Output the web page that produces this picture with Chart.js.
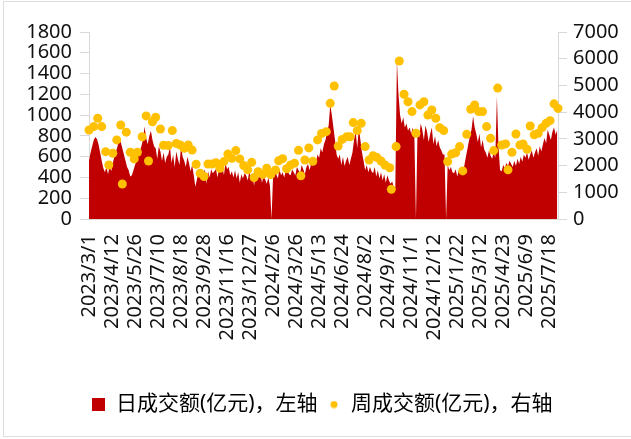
<!DOCTYPE html>
<html>
<head>
<meta charset="utf-8">
<script src="https://cdn.jsdelivr.net/npm/chart.js@4.4.1/dist/chart.umd.min.js"></script>
<style>
  html, body { margin: 0; padding: 0; background: #fff; overflow: hidden; }
  #wrap { position: relative; width: 631px; height: 439px; }
  #frame { position: absolute; left: 3px; top: 1px; width: 640px; height: 436px; border: 1px solid #dedede; box-sizing: border-box; pointer-events: none; }
  canvas { position: absolute; left: 0; top: 0; }
</style>
</head>
<body>
<div id="wrap">
  <canvas id="turnoverChart" width="631" height="439"></canvas>
  <div id="frame"></div>
</div>
<script>
// x轴标签，每29个交易日一个
const tickLabels = ['2023/3/1', '2023/4/12', '2023/5/26', '2023/7/10', '2023/8/18', '2023/9/28',
  '2023/11/16', '2023/12/27', '2024/2/6', '2024/3/26', '2024/5/13', '2024/6/24', '2024/8/2',
  '2024/9/12', '2024/11/1', '2024/12/12', '2025/1/22', '2025/3/12', '2025/4/23', '2025/6/9', '2025/7/18'];
const tickStep = 29;
const lastDay = 591;

// 日成交额(亿元)，每个值代表两个交易日
const dayStep = 2;
const dailyTurnover = [
  560, 640, 700, 760, 790, 770, 720, 640, 560, 490,
  450, 500, 430, 520, 460, 540, 600, 650, 700, 765,
  740, 680, 620, 560, 500, 470, 410, 420, 470, 520,
  560, 610, 650, 700, 760, 890, 780, 720, 800, 850,
  760, 700, 680, 580, 700, 650, 560, 640, 540, 600,
  620, 700, 540, 620, 500, 650, 580, 520, 700, 600,
  560, 500, 600, 540, 460, 520, 420, 310, 380, 450,
  430, 470, 420, 480, 340, 460, 400, 480, 440, 460,
  480, 400, 500, 460, 520, 420, 540, 480, 500, 420,
  460, 400, 470, 390, 450, 350, 430, 390, 440, 420,
  370, 460, 400, 440, 320, 420, 450, 390, 440, 350,
  420, 380, 340, 400, 320, 0, 420, 460, 430, 390,
  480, 420, 450, 400, 470, 500, 430, 420, 480, 450,
  420, 500, 470, 440, 520, 480, 430, 500, 530, 470,
  540, 510, 580, 550, 620, 590, 680, 640, 720, 760,
  840, 900, 1100, 1000, 880, 760, 620, 580, 620, 520,
  600, 510, 560, 600, 520, 580, 640, 760, 850, 680,
  880, 760, 640, 560, 470, 520, 450, 500, 460, 440,
  500, 410, 470, 390, 450, 370, 430, 350, 420, 370,
  340, 360, 310, 300, 1520, 1200, 1000, 920, 980, 880,
  920, 850, 880, 820, 880, 800, 0, 860, 780, 920,
  860, 760, 900, 840, 740, 820, 880, 720, 800, 700,
  760, 690, 660, 620, 620, 0, 520, 470, 500, 450,
  440, 480, 410, 470, 440, 500, 470, 560, 640, 720,
  800, 860, 990, 880, 820, 740, 820, 690, 760, 670,
  640, 590, 660, 610, 580, 640, 590, 1180, 700, 470,
  460, 520, 490, 540, 510, 560, 530, 500, 560, 510,
  580, 530, 600, 550, 620, 590, 640, 570, 620, 660,
  590, 640, 680, 610, 700, 650, 720, 780, 730, 860,
  810, 760, 840, 880, 810, 860
];

// 周成交额(亿元)：所在交易日序号与数值
const weeklyDay = [
  0, 6, 11, 16, 21, 25, 30, 35, 40, 42, 47, 52, 57, 61, 67, 72, 75, 80, 84, 90,
  94, 100, 105, 110, 115, 120, 125, 130, 135, 140, 145, 150, 155, 160, 165, 170, 175, 180, 185, 190,
  195, 200, 205, 208, 213, 219, 224, 229, 235, 239, 244, 249, 254, 259, 264, 267, 272, 277, 282, 288,
  293, 299, 304, 309, 314, 319, 325, 329, 333, 338, 343, 348, 353, 358, 363, 368, 373, 379, 381, 387,
  391, 397, 402, 407, 412, 417, 422, 427, 432, 437, 442, 447, 452, 457, 462, 467, 471, 476, 481, 486,
  491, 496, 501, 506, 510, 515, 520, 525, 528, 533, 538, 543, 547, 552, 556, 561, 566, 571, 576, 581,
  586, 591
];
const weeklyTurnover = [
  3330, 3460, 3770, 3460, 2520, 2020, 2460, 2960, 3520, 1310, 3250, 2500, 2250, 2500, 3080, 3860, 2170, 3640, 3810, 3370,
  2760, 2750, 3310, 2830, 2770, 2650, 2770, 2580, 2050, 1710, 1590, 2060, 2060, 2110, 1900, 2150, 2430, 2270, 2560, 2250,
  2000, 1840, 2120, 1550, 1770, 1670, 1900, 1660, 1835, 2180, 2260, 1880, 2020, 2090, 2570, 1615, 2210, 2660, 2160, 2960,
  3200, 3270, 4330, 4980, 2730, 2980, 3080, 3080, 3610, 3310, 3580, 2710, 2210, 2370, 2300, 2170, 2020, 1920, 1110, 2710,
  5915, 4670, 4390, 4020, 3210, 4270, 4390, 3890, 4080, 3770, 3420, 3310, 2150, 2430, 2480, 2710, 1800, 3170, 4110, 4270,
  4020, 4020, 3460, 3020, 2560, 4900, 2770, 2810, 1840, 2500, 3180, 2770, 2810, 2610, 3480, 3150, 3210, 3420, 3580, 3680,
  4310, 4140
];

const dailyPoints = dailyTurnover.map((v, j) => ({ x: j * dayStep, y: v }));
const weeklyPoints = weeklyTurnover.map((v, k) => ({ x: weeklyDay[k], y: v }));

// 图例标记
function markerCanvas(size, draw) {
  const c = document.createElement('canvas');
  c.width = size;
  c.height = size;
  draw(c.getContext('2d'));
  return c;
}
const redBox = markerCanvas(13, g => { g.fillStyle = '#C00000'; g.fillRect(0, 0, 13, 13); });
const yellowDot = markerCanvas(8, g => {
  g.fillStyle = '#FFC000';
  g.beginPath();
  g.arc(4, 4, 3.5, 0, Math.PI * 2);
  g.fill();
});

// 固定图例高度
const legendHeight = {
  id: 'legendHeight',
  beforeInit(chart) {
    const fit = chart.legend.fit;
    chart.legend.fit = function () {
      fit.call(this);
      this.height = 55;
    };
  }
};

Chart.defaults.font.family = "'Noto Sans', 'Noto Sans CJK SC', sans-serif";
Chart.defaults.color = '#111';

const axisGrey = '#d9d9d9';
const plainNumber = value => String(value);
const ctx = document.getElementById('turnoverChart').getContext('2d');
new Chart(ctx, {
  type: 'line',
  data: {
    datasets: [{
      label: '日成交额(亿元)，左轴',
      data: dailyPoints,
      yAxisID: 'y',
      backgroundColor: '#C00000',
      borderColor: 'rgba(0,0,0,0)',
      borderWidth: 0,
      pointRadius: 0,
      fill: 'origin',
      tension: 0,
      order: 1
    }, {
      type: 'scatter',
      label: '周成交额(亿元)，右轴',
      data: weeklyPoints,
      yAxisID: 'y1',
      backgroundColor: '#FFC000',
      borderWidth: 0,
      pointRadius: 4.5,
      showLine: false,
      clip: false,
      order: 0
    }]
  },
  options: {
    responsive: false,
    animation: false,
    devicePixelRatio: 1,
    layout: { padding: { top: 32, left: 14, right: 0, bottom: 0 } },
    plugins: {
      tooltip: { enabled: false },
      legend: {
        position: 'bottom',
        labels: {
          usePointStyle: true,
          boxWidth: 13,
          boxHeight: 13,
          padding: 10,
          font: { size: 21 },
          generateLabels: () => [
            { text: '日成交额(亿元)，左轴', pointStyle: redBox, fillStyle: '#C00000', lineWidth: 0, hidden: false, datasetIndex: 0 },
            { text: '周成交额(亿元)，右轴', pointStyle: yellowDot, fillStyle: '#FFC000', lineWidth: 0, hidden: false, datasetIndex: 1 }
          ]
        }
      }
    },
    scales: {
      x: {
        type: 'linear',
        min: 0,
        max: lastDay,
        afterBuildTicks: scale => {
          scale.ticks = tickLabels.map((_, k) => ({ value: k * tickStep }));
        },
        ticks: {
          autoSkip: false,
          minRotation: 90,
          maxRotation: 90,
          padding: 15,
          font: { size: 20 },
          callback: (value, index) => tickLabels[index]
        },
        grid: { drawOnChartArea: false, drawTicks: false },
        border: { color: axisGrey },
        afterFit: scale => { scale.height = 165; }
      },
      y: {
        position: 'left',
        min: 0,
        max: 1800,
        ticks: { stepSize: 200, autoSkip: false, padding: 8, font: { size: 20 }, callback: plainNumber },
        grid: { drawOnChartArea: false, tickLength: 9, color: axisGrey },
        border: { color: axisGrey },
        afterFit: scale => { scale.width = 75; }
      },
      y1: {
        position: 'right',
        min: 0,
        max: 7000,
        ticks: { stepSize: 1000, autoSkip: false, padding: 6, font: { size: 20 }, callback: plainNumber },
        grid: { drawOnChartArea: false, tickLength: 9, color: axisGrey },
        border: { color: axisGrey },
        afterFit: scale => { scale.width = 73; }
      }
    }
  },
  plugins: [legendHeight]
});
</script>
</body>
</html>
